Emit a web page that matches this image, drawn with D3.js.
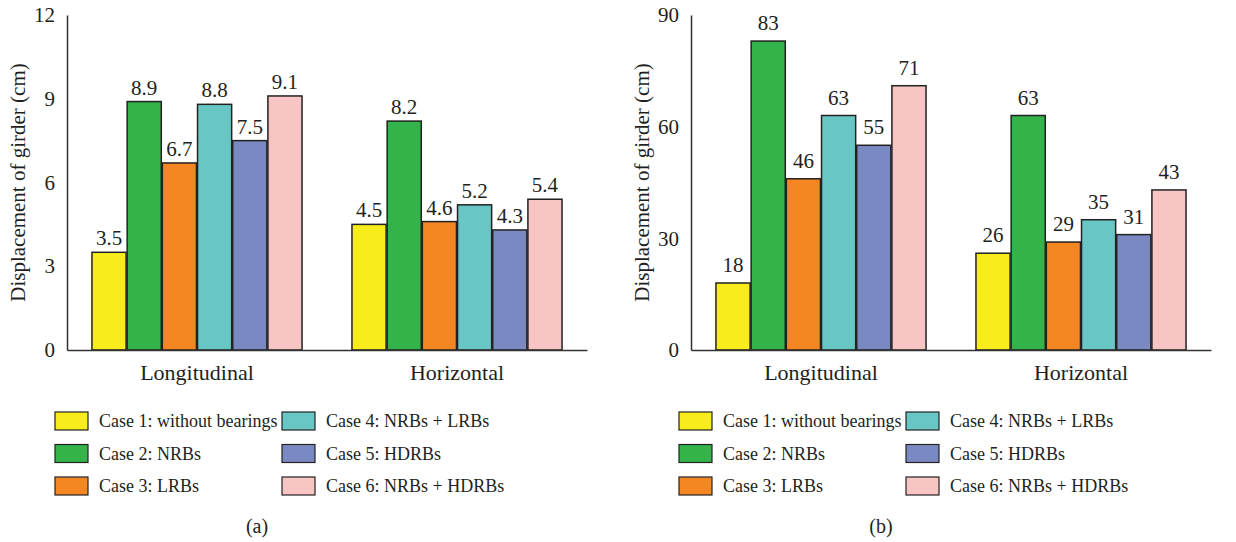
<!DOCTYPE html>
<html>
<head>
<meta charset="utf-8">
<script src="https://cdn.jsdelivr.net/npm/d3@7"></script>
<style>
  body { margin: 0; background: #fff; }
  text { font-family: "Liberation Serif", "Times New Roman", serif; fill: #231f20; }
</style>
</head>
<body>
<svg id="chart" width="1236" height="542"></svg>
<script>
// categories and cases
var categories = ["Longitudinal", "Horizontal"];
var cases = ["Case 1: without bearings", "Case 2: NRBs", "Case 3: LRBs",
             "Case 4: NRBs + LRBs", "Case 5: HDRBs", "Case 6: NRBs + HDRBs"];
var caseColors = ["#f8ec1c", "#34b34a", "#f58723", "#68c7c5", "#7b89c3", "#f8c5c5"];

// (a) values, one row per category
var dispA_long = [3.5, 8.9, 6.7, 8.8, 7.5, 9.1];
var dispA_hor  = [4.5, 8.2, 4.6, 5.2, 4.3, 5.4];
var ticksA = [0, 3, 6, 9, 12];

// (b) values
var dispB_long = [18, 83, 46, 63, 55, 71];
var dispB_hor  = [26, 63, 29, 35, 31, 43];
var ticksB = [0, 30, 60, 90];

var svg = d3.select("#chart");

function drawPanel(left, values, ticks, fmt, labelGap, caption) {
    var top = 15, bottom = 350, width = 520;
    var g = svg.append("g").attr("transform", "translate(" + left + ",0)");

    var y = d3.scaleLinear().domain([0, d3.max(ticks)]).range([bottom, top]);
    var x0 = d3.scaleBand().domain(categories).range([0, width])
        .paddingInner(0.192).paddingOuter(0.096);
    var x1 = d3.scaleBand().domain(d3.range(cases.length)).range([0, x0.bandwidth()])
        .paddingInner(0.03);

    // y axis
    var yAxis = g.append("g")
        .call(d3.axisLeft(y).tickValues(ticks).tickSize(0).tickPadding(12).tickFormat(d3.format("d")));
    yAxis.select(".domain").attr("stroke", "#333").attr("stroke-width", 1.5);
    yAxis.selectAll("text").style("font-size", "21px").attr("fill", "#231f20")
        .style("font-family", "'Liberation Serif', serif");

    g.append("text")
        .attr("transform", "translate(" + (-42) + "," + ((top + bottom) / 2) + ") rotate(-90)")
        .attr("text-anchor", "middle")
        .style("font-size", "21px")
        .text("Displacement of girder (cm)");

    var rows = [values[0], values[1]];
    var groups = g.selectAll(".grp")
        .data(rows)
        .enter()
        .append("g")
        .attr("transform", function(d, i) { return "translate(" + x0(categories[i]) + ",0)"; });

    groups.selectAll("rect")
        .data(function(d) { return d; })
        .enter()
        .append("rect")
        .attr("x", function(d, i) { return x1(i); })
        .attr("width", x1.bandwidth())
        .attr("y", function(d) { return y(d); })
        .attr("height", function(d) { return bottom - y(d); })
        .attr("fill", function(d, i) { return caseColors[i]; })
        .attr("stroke", "#222")
        .attr("stroke-width", 1.5);

    groups.selectAll(".val")
        .data(function(d) { return d; })
        .enter()
        .append("text")
        .attr("x", function(d, i) { return x1(i) + x1.bandwidth() / 2; })
        .attr("y", function(d) { return y(d) - labelGap; })
        .attr("text-anchor", "middle")
        .style("font-size", "21px")
        .text(function(d) { return fmt(d); });

    // x axis (baseline)
    var xAxis = g.append("g").attr("transform", "translate(0," + bottom + ")")
        .call(d3.axisBottom(x0).tickSize(0).tickPadding(14));
    xAxis.select(".domain").attr("stroke", "#333").attr("stroke-width", 1.5);
    xAxis.selectAll("text").style("font-size", "22px").attr("fill", "#231f20")
        .style("font-family", "'Liberation Serif', serif");

    // legend
    var leg = g.selectAll(".leg")
        .data(cases)
        .enter()
        .append("g")
        .attr("transform", function(d, i) {
            var col = Math.floor(i / 3), row = i % 3;
            return "translate(" + (-12 + col * 227) + "," + (412 + row * 32.5) + ")";
        });
    leg.append("rect")
        .attr("width", 33).attr("height", 18)
        .attr("fill", function(d, i) { return caseColors[i]; })
        .attr("stroke", "#222").attr("stroke-width", 1.2);
    leg.append("text")
        .attr("x", 44).attr("y", 15)
        .style("font-size", "18px")
        .text(function(d) { return d; });

    g.append("text")
        .attr("x", 190).attr("y", 533)
        .attr("text-anchor", "middle")
        .style("font-size", "20px")
        .text(caption);
}

drawPanel(67, [dispA_long, dispA_hor], ticksA, d3.format(".1f"), 7, "(a)");
drawPanel(691, [dispB_long, dispB_hor], ticksB, d3.format("d"), 11, "(b)");
</script>
</body>
</html>
